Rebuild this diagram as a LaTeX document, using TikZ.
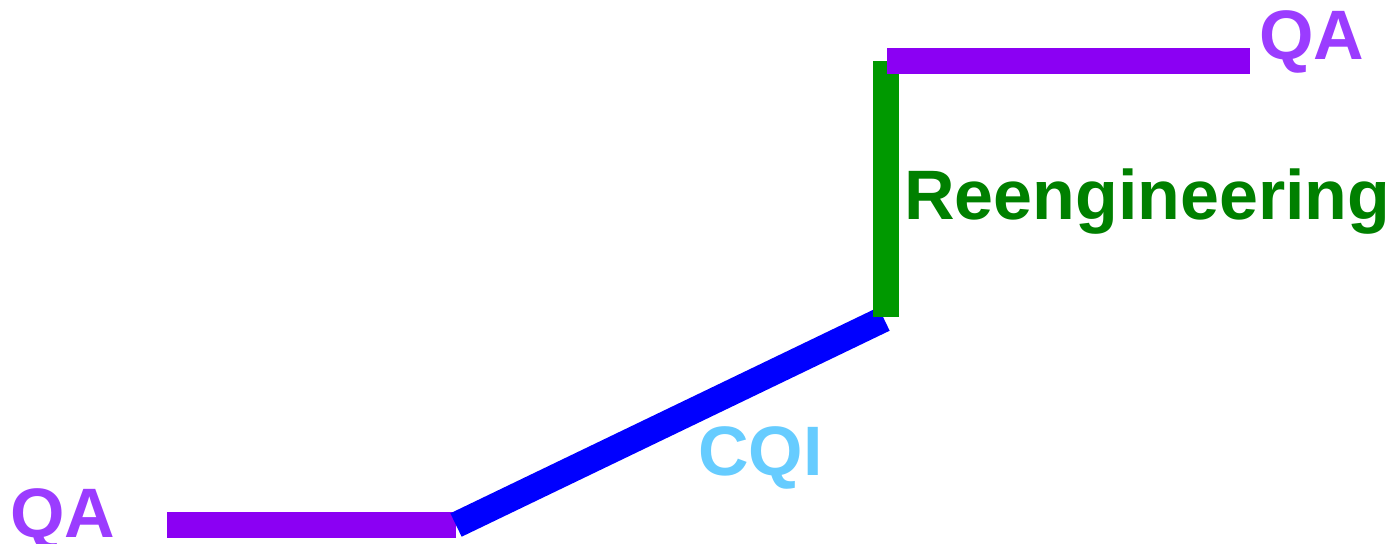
\documentclass[tikz,border=0pt]{standalone}
\usepackage{fontspec}
\setmainfont{Liberation Sans}
\definecolor{barpurple}{HTML}{8B00F3}
\definecolor{txtpurple}{HTML}{9B3CFF}
\definecolor{bargreen}{HTML}{009900}
\definecolor{txtgreen}{HTML}{008000}
\definecolor{barblue}{HTML}{0000FF}
\definecolor{txtblue}{HTML}{66CCFF}
\tikzset{
  bar/.style={line width=26bp, line cap=butt},
  lbl/.style={inner sep=0pt, anchor=base west, font=\bfseries\fontsize{70bp}{72bp}\selectfont}
}
\begin{document}
\begin{tikzpicture}[x=1bp,y=-1bp]
\useasboundingbox (0,0) rectangle (1394,544);
\coordinate (b1) at (167,525);
\coordinate (b2) at (456,525);
\coordinate (c2) at (884,319);
\coordinate (g1) at (886,317);
\coordinate (g2) at (886,61);
\coordinate (t1) at (887,61);
\coordinate (t2) at (1250,61);
\draw[bar, barpurple] (b1) -- (b2);
\draw[bar, barblue] (b2) -- (c2);
\draw[bar, bargreen] (g1) -- (g2);
\draw[bar, barpurple] (t1) -- (t2);
\node[lbl, text=txtpurple] (qa1) at (10,537) {QA};
\node[lbl, text=txtpurple] (qa2) at (1259,60) {QA};
\node[lbl, text=txtgreen] (re) at (904,220) {Reengineering};
\node[lbl, text=txtblue] (cqi) at (698,475) {CQI};
\end{tikzpicture}
\end{document}
